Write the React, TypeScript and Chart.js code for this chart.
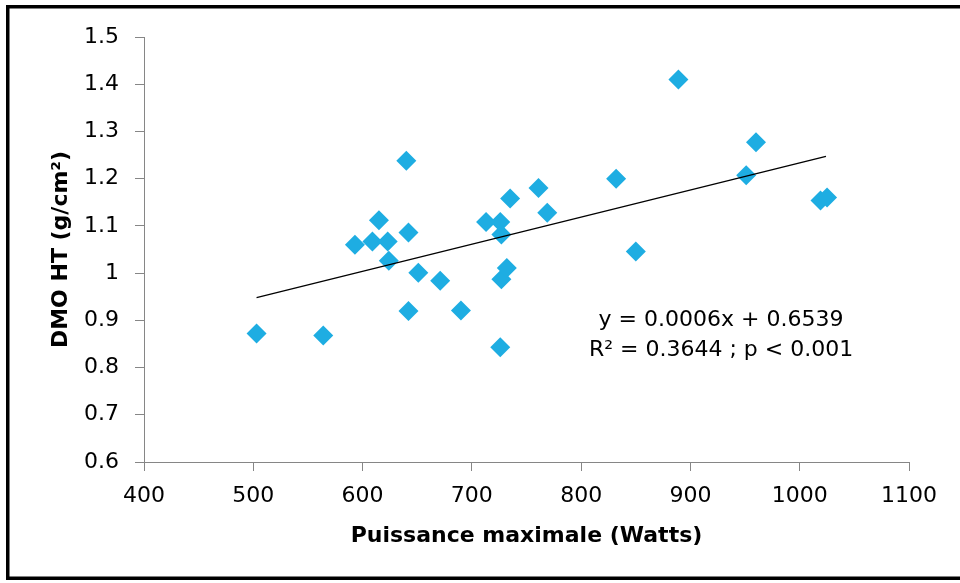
import React, { useEffect, useRef } from "react";
import { Chart, registerables } from "chart.js";

Chart.register(...registerables);

// Data
const powerWatts = [503, 564, 593, 609, 615, 623, 624, 640, 642, 642, 651, 671, 690, 713, 726, 727, 726, 727, 732, 735, 761, 769, 832, 850, 889, 951, 960, 1019, 1025];
const dmoHT = [0.872, 0.868, 1.06, 1.067, 1.112, 1.067, 1.026, 1.238, 1.086, 0.92, 1.001, 0.984, 0.921, 1.108, 1.108, 1.082, 0.843, 0.987, 1.011, 1.158, 1.18, 1.128, 1.2, 1.046, 1.41, 1.207, 1.277, 1.154, 1.16];

const trendX = [503, 1024];
const trendY = [0.948, 1.247];

const xTicks = [400, 500, 600, 700, 800, 900, 1000, 1100];
const xTickLabels = ["400", "500", "600", "700", "800", "900", "1000", "1100"];
const yTicks = [0.6, 0.7, 0.8, 0.9, 1, 1.1, 1.2, 1.3, 1.4, 1.5];
const yTickLabels = ["0.6", "0.7", "0.8", "0.9", "1", "1.1", "1.2", "1.3", "1.4", "1.5"];

const equationLines = ["y = 0.0006x + 0.6539", "R² = 0.3644 ; p < 0.001"];
const equationAnchorX = 928;
const equationAnchorY = [0.9, 0.837];

const xTitle = "Puissance maximale (Watts)";
const yTitle = "DMO HT (g/cm²)";

const FONT = "'DejaVu Sans', sans-serif";

function labelFor(values: number[], labels: string[], v: any) {
  const idx = values.findIndex((t) => Math.abs(t - Number(v)) < 1e-6);
  return idx >= 0 ? labels[idx] : "";
}

export default function App() {
  const canvasRef = useRef<HTMLCanvasElement | null>(null);

  useEffect(() => {
    const canvas = canvasRef.current;
    if (!canvas) return;

    const framePlugin = {
      id: "frame",
      beforeDraw(chart: any) {
        const { ctx, width, height } = chart;
        ctx.save();
        ctx.fillStyle = "#ffffff";
        ctx.fillRect(0, 0, width, height);
        ctx.fillStyle = "#000000";
        ctx.fillRect(6, 5, width - 6, 3.5);
        ctx.fillRect(6, 5, 3.5, height - 5 - 3);
        ctx.fillRect(6, height - 6.5, width - 6, 3.5);
        ctx.restore();
      },
    };

    const equationPlugin = {
      id: "equationText",
      afterDatasetsDraw(chart: any) {
        const { ctx, scales } = chart;
        ctx.save();
        ctx.font = `22px ${FONT}`;
        ctx.fillStyle = "#000000";
        ctx.textAlign = "center";
        ctx.textBaseline = "middle";
        equationLines.forEach((t, i) => {
          ctx.fillText(t, scales.x.getPixelForValue(equationAnchorX), scales.y.getPixelForValue(equationAnchorY[i]));
        });
        ctx.restore();
      },
    };

    const chart = new Chart(canvas, {
      type: "scatter",
      data: {
        datasets: [
          {
            label: "DMO",
            data: powerWatts.map((x, i) => ({ x, y: dmoHT[i] })),
            pointStyle: "rectRot",
            pointRadius: 10,
            pointHoverRadius: 10,
            backgroundColor: "#1EADE2",
            borderColor: "#1EADE2",
            borderWidth: 0,
            order: 2,
          },
          {
            type: "line",
            label: "Tendance",
            data: trendX.map((x, i) => ({ x, y: trendY[i] })),
            borderColor: "#000000",
            borderWidth: 1.3,
            pointRadius: 0,
            showLine: true,
            fill: false,
            order: 1,
          } as any,
        ],
      },
      options: {
        animation: false,
        responsive: false,
        maintainAspectRatio: false,
        layout: { padding: { top: 37, right: 51, left: 0, bottom: 0 } },
        plugins: {
          legend: { display: false },
          tooltip: { enabled: false },
        },
        scales: {
          x: {
            type: "linear",
            min: 400,
            max: 1100,
            afterBuildTicks: (s: any) => {
              s.ticks = xTicks.map((v) => ({ value: v }));
            },
            afterFit: (s: any) => {
              s.height = 121;
            },
            grid: {
              drawOnChartArea: false,
              drawTicks: true,
              tickLength: 9,
              color: "#868686",
            },
            border: { display: true, color: "#868686", width: 1 },
            ticks: {
              color: "#000000",
              font: { family: FONT, size: 22 },
              padding: 12,
              maxRotation: 0,
              autoSkip: false,
              callback: (v: any) => labelFor(xTicks, xTickLabels, v),
            },
            title: {
              display: true,
              text: xTitle,
              color: "#000000",
              font: { family: FONT, size: 22, weight: "bold" },
              padding: { top: 0, bottom: 34 },
            },
          },
          y: {
            type: "linear",
            min: 0.6,
            max: 1.5,
            afterBuildTicks: (s: any) => {
              s.ticks = yTicks.map((v) => ({ value: v }));
            },
            afterFit: (s: any) => {
              s.width = 144;
            },
            grid: {
              drawOnChartArea: false,
              drawTicks: true,
              tickLength: 9,
              color: "#868686",
            },
            border: { display: true, color: "#868686", width: 1 },
            ticks: {
              color: "#000000",
              font: { family: FONT, size: 22 },
              padding: 16,
              autoSkip: false,
              callback: (v: any) => labelFor(yTicks, yTickLabels, v),
            },
            title: {
              display: true,
              text: yTitle,
              color: "#000000",
              font: { family: FONT, size: 22, weight: "bold" },
              padding: { top: 48, bottom: 0 },
            },
          },
        },
      },
      plugins: [framePlugin, equationPlugin],
    });

    return () => chart.destroy();
  }, []);

  return (
    <div
      style={{
        position: "fixed",
        left: 0,
        top: 0,
        width: 960,
        height: 583,
        overflow: "hidden",
        background: "#ffffff",
      }}
    >
      <canvas ref={canvasRef} width={960} height={583} style={{ position: "absolute", left: 0, top: 0, width: 960, height: 583 }} />
    </div>
  );
}
